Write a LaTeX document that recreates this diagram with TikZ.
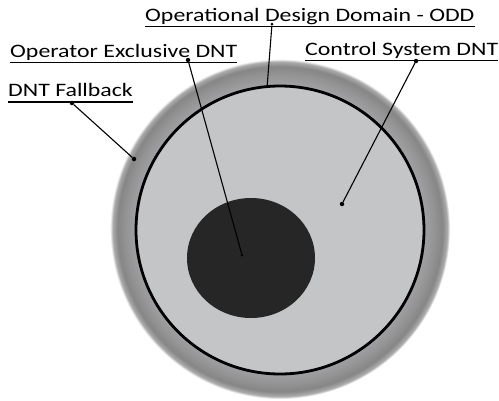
\documentclass[tikz,border=0pt]{standalone}
\usepackage{fontspec}
\setmainfont{Carlito}[FakeStretch=1.255]
\definecolor{innerfill}{HTML}{C4C5C7}
\definecolor{corefill}{HTML}{262626}
\definecolor{haA}{HTML}{A0A0A2}
\definecolor{haB}{HTML}{939394}
\definecolor{haC}{HTML}{868687}
\definecolor{haD}{HTML}{ABABAB}
\pgfdeclareradialshading{halo}{\pgfpoint{0bp}{0bp}}{%
  color(0bp)=(haA); color(21.3bp)=(haA); color(22.8bp)=(haB);
  color(23.9bp)=(haC); color(24.6bp)=(haD); color(25bp)=(white); color(50bp)=(white)}
\tikzset{
  lbl/.style={anchor=base west, inner sep=0pt, font=\fontsize{19}{22}\selectfont},
  uline/.style={line width=1.3pt},
  leader/.style={line width=1.1pt},
  dot/.style={circle, fill=black, inner sep=0pt, minimum size=4.5pt},
  ringnode/.style={circle, fill=innerfill, draw=black, line width=2.8pt, minimum size=288pt, inner sep=0pt},
  corenode/.style={ellipse, fill=corefill, minimum width=128pt, minimum height=120pt, inner sep=0pt},
}
\usetikzlibrary{shapes.geometric}
\begin{document}
\begin{tikzpicture}[x=1pt,y=-1pt]
\useasboundingbox (0,0) rectangle (499,400);
\fill[white] (0,0) rectangle (499,400);
\shade[shading=halo] (280,229) circle[radius=170];
\node[ringnode] (odd) at (280,230) {};
\node[corenode] (core) at (251,258) {};
% labels
\node[lbl] (lodd) at (145,21) {Operational Design Domain - ODD};
\node[lbl] (lop) at (10,57) {Operator Exclusive DNT};
\node[lbl] (lfb) at (8,96.5) {DNT Fallback};
\node[lbl] (lcs) at (305,55) {Control System DNT};
\foreach \n in {lodd,lop,lfb,lcs}
  \draw[uline] ([yshift=-5.5pt]\n.base west) -- ([yshift=-5.5pt]\n.base east);
% dots
\node[dot, minimum size=3pt] (a1) at (272,24) {};
\node[inner sep=0pt] (a2) at (267,88) {};
\node[dot] (b1) at (188,60) {};
\node[dot, minimum size=3pt] (b2) at (242,255) {};
\node[dot] (c1) at (72,103) {};
\node[dot] (c2) at (134,159) {};
\node[dot] (d1) at (416,61) {};
\node[dot] (d2) at (342,204) {};
\draw[leader] (a1) -- (a2);
\draw[leader] (b1) -- (b2);
\draw[leader] (c1) -- (c2);
\draw[leader] (d1) -- (d2);
\end{tikzpicture}
\end{document}
